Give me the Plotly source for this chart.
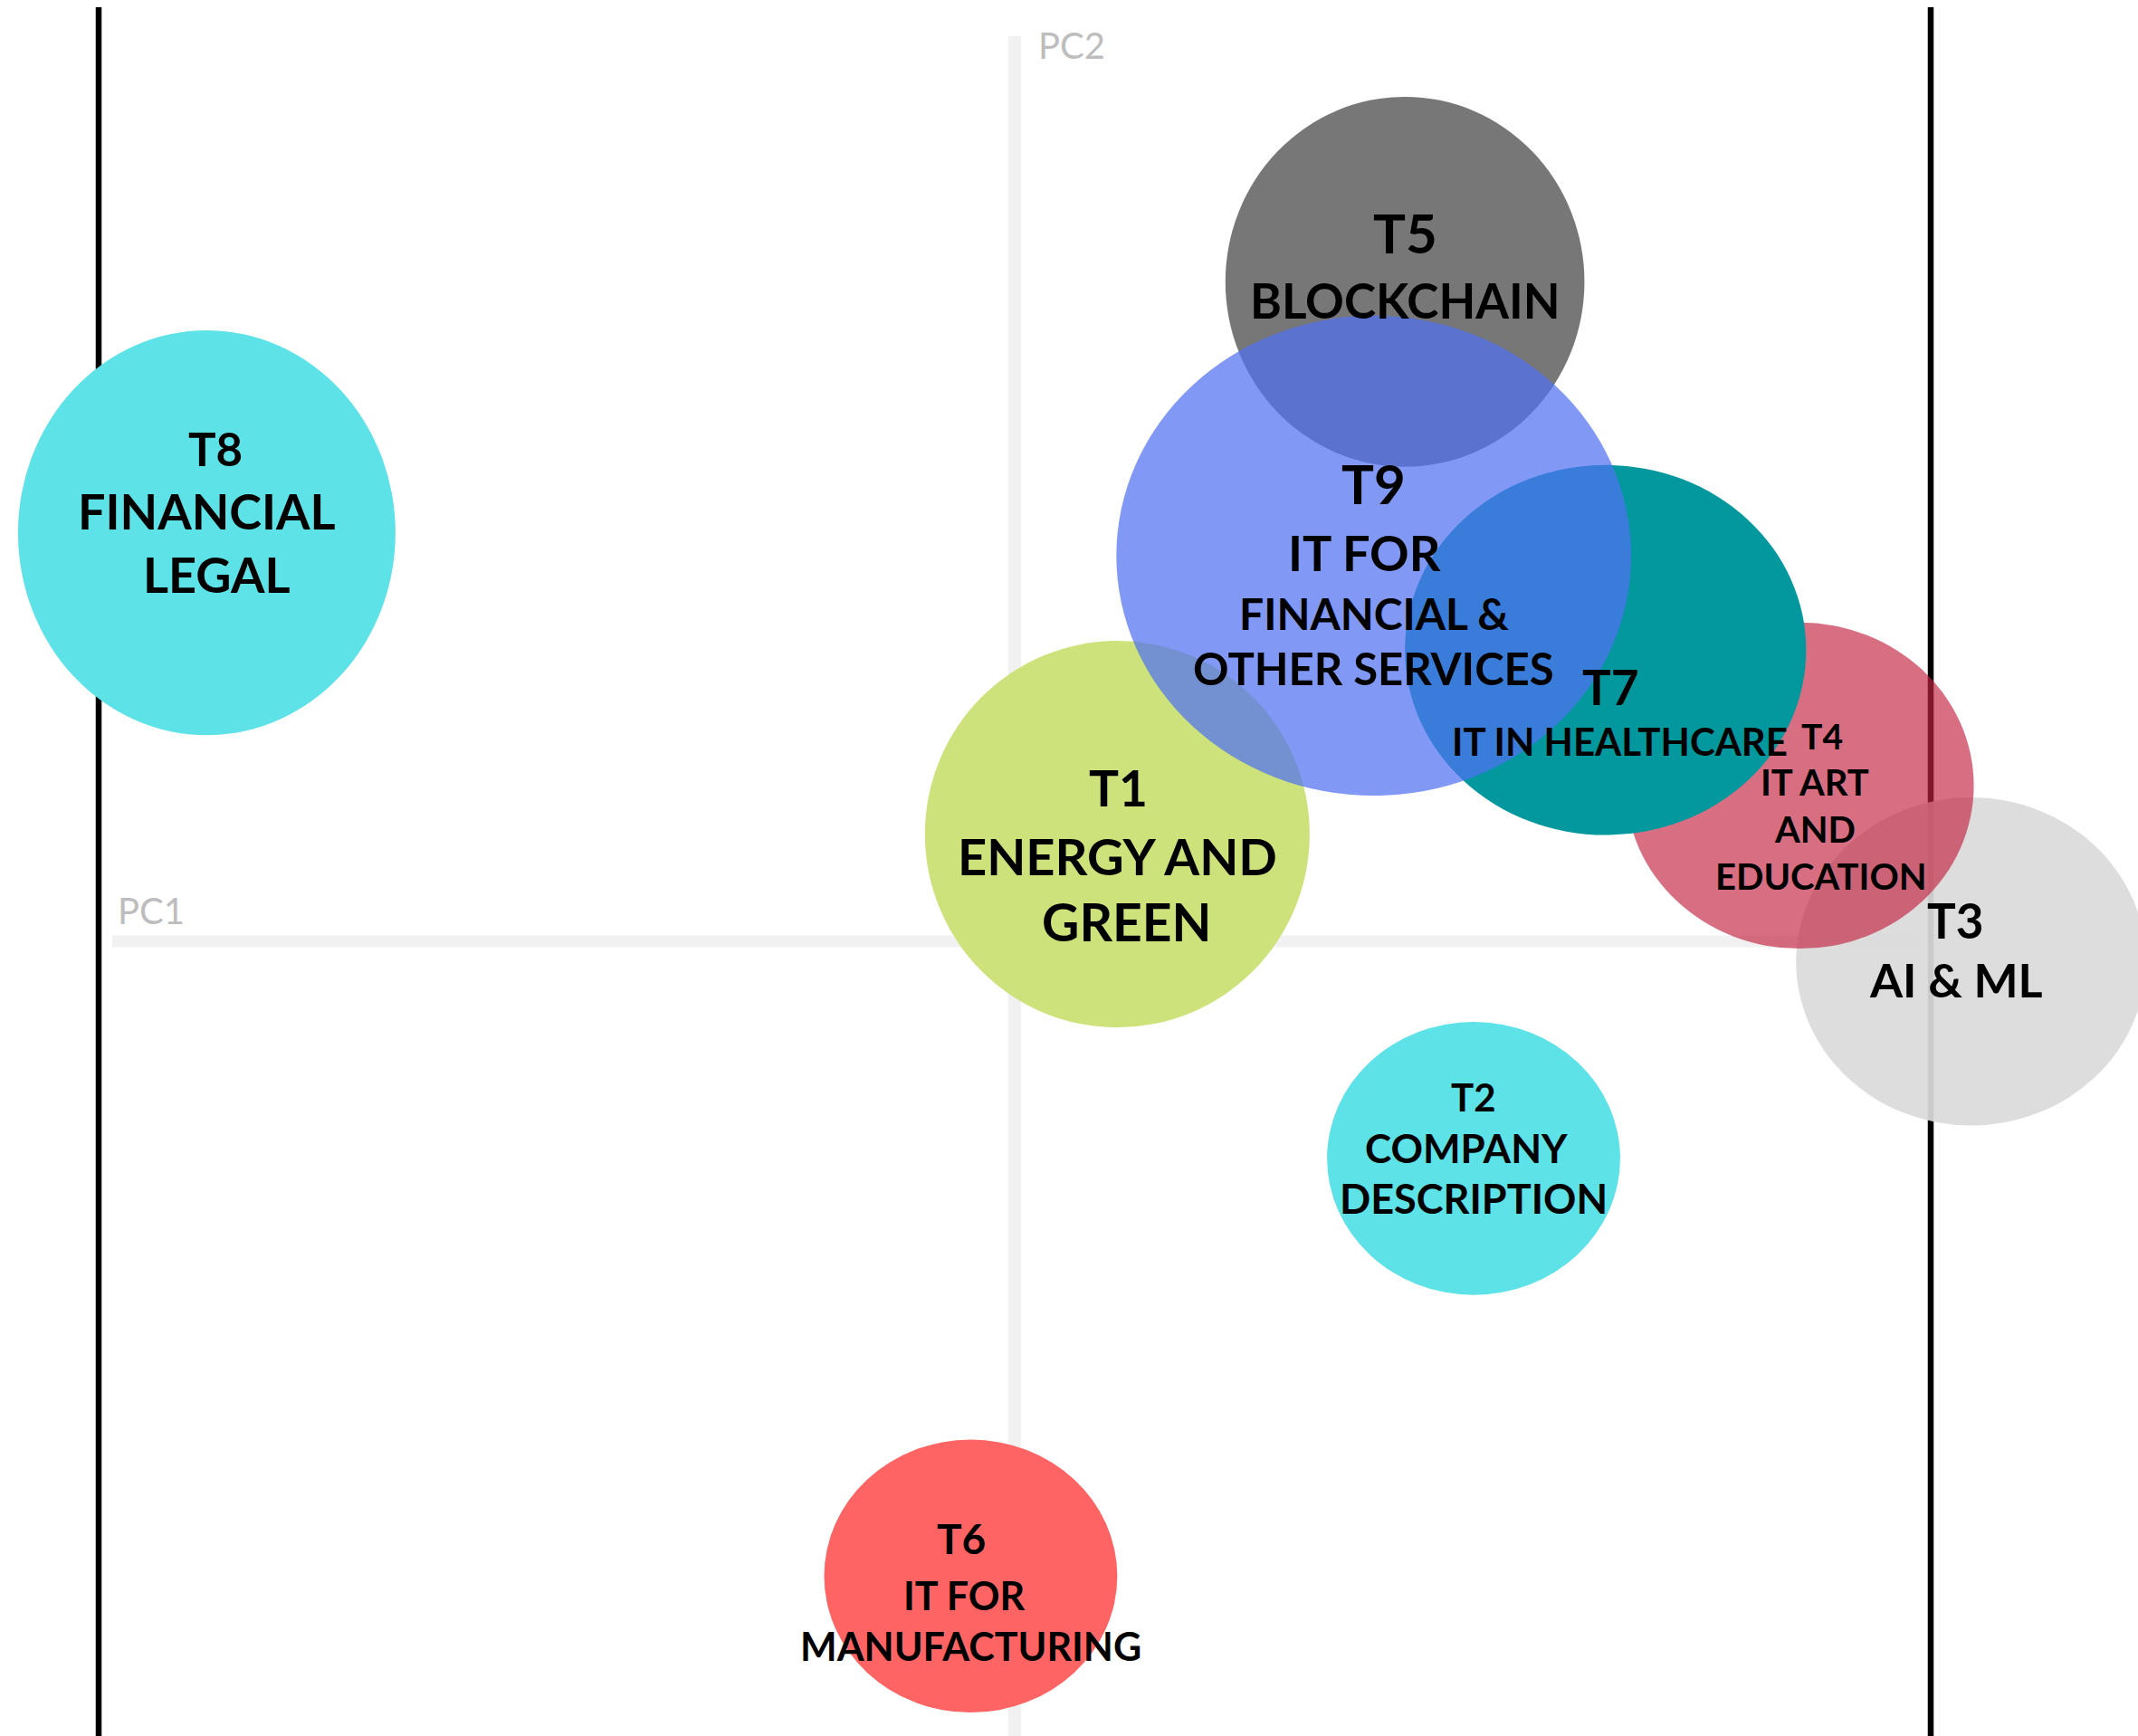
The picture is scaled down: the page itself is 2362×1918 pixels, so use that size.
import plotly.graph_objects as go

# ---------------- data ----------------
topics = ["T1", "T2", "T3", "T4", "T5", "T6", "T7", "T8", "T9"]
topic_names = [
    ["ENERGY AND", "GREEN"],
    ["COMPANY", "DESCRIPTION"],
    ["AI & ML"],
    ["IT ART", "AND", "EDUCATION"],
    ["BLOCKCHAIN"],
    ["IT FOR", "MANUFACTURING"],
    ["IT IN HEALTHCARE"],
    ["FINANCIAL", "LEGAL"],
    ["IT FOR", "FINANCIAL &", "OTHER SERVICES"],
]
pc1 = [0.112, 0.501, 1.044, 0.857, 0.426, -0.048, 0.645, -0.882, 0.392]
pc2 = [0.117, -0.237, -0.022, 0.170, 0.720, -0.693, 0.318, 0.446, 0.421]
size_x = [0.210, 0.160, 0.191, 0.190, 0.196, 0.160, 0.219, 0.206, 0.281]
size_y = [0.211, 0.149, 0.179, 0.178, 0.202, 0.149, 0.202, 0.221, 0.262]

# ---------------- styles ----------------
W, H = 2362, 1918
PX = 1012.0            # pixels per data unit
X_ORIGIN, Y_ORIGIN = 1121, 1040

colors = {
    "T1": "rgb(205,226,122)",
    "T2": "rgb(93,226,231)",
    "T3": "rgba(218,218,218,0.93)",
    "T4": "rgba(196,35,66,0.66)",
    "T5": "rgb(119,119,119)",
    "T6": "rgb(255,100,100)",
    "T7": "rgb(3,152,158)",
    "T8": "rgb(93,226,231)",
    "T9": "rgba(80,113,241,0.72)",
}
draw_order = ["T8", "T6", "T2", "T3", "T4", "T7", "T1", "T5", "T9"]

# per-line label style: (dx, dy, font size) in px relative to bubble centre
label_style = {
    "T1": [(1, -52, 55), (0, 24, 56), (11, 96, 57)],
    "T2": [(0, -68, 42), (-8, -12, 44), (0, 44, 45)],
    "T3": [(-17, -46, 53), (-17, 20, 52)],
    "T4": [(25, -55, 39), (17, -4, 40), (17, 48, 40), (24, 100, 40)],
    "T5": [(0, -54, 60), (0, 20, 53)],
    "T6": [(-10, -42, 46), (-7, 21, 43), (0, 77, 43)],
    "T7": [(6, 40, 53), (16, 101, 42)],
    "T8": [(10, -93, 51), (0, -24, 54), (11, 46, 54)],
    "T9": [(0, -80, 60), (-10, -3, 54), (0, 64, 48), (0, 124, 49)],
}
FONT = "Lato"
AXIS_GREY = "#F1F1F1"

fig = go.Figure()

shapes = []
# frame lines at PC1 = -1 and PC1 = +1
for xv in (-1, 1):
    shapes.append(dict(type="line", xref="x", yref="paper", x0=xv, x1=xv,
                       y0=0, y1=1 - 8 / H, line=dict(color="black", width=6.5),
                       layer="above"))
# PC axes
shapes.append(dict(type="line", xref="x", yref="paper", x0=0, x1=0,
                   y0=0, y1=1 - 40 / H, line=dict(color=AXIS_GREY, width=14),
                   layer="above"))
shapes.append(dict(type="line", xref="x", yref="y", x0=-0.985, x1=0.985,
                   y0=0, y1=0, line=dict(color=AXIS_GREY, width=13),
                   layer="above"))

# bubbles
for t in draw_order:
    i = topics.index(t)
    shapes.append(dict(type="circle", xref="x", yref="y",
                       x0=pc1[i] - size_x[i], x1=pc1[i] + size_x[i],
                       y0=pc2[i] - size_y[i], y1=pc2[i] + size_y[i],
                       fillcolor=colors[t], line=dict(width=0), layer="above"))

annotations = []
for t in draw_order:
    i = topics.index(t)
    lines = [t] + topic_names[i]
    for text, (dx, dy, fs) in zip(lines, label_style[t]):
        annotations.append(dict(
            x=pc1[i], y=pc2[i], xref="x", yref="y", text=text,
            showarrow=False, xanchor="center", yanchor="middle",
            xshift=dx, yshift=-dy,
            font=dict(family=FONT, size=fs, color="black", weight="bold"),
        ))

# axis labels
annotations.append(dict(x=-0.985, y=0, xref="x", yref="y", text="PC1",
                        showarrow=False, xanchor="left", yanchor="middle",
                        xshift=4, yshift=34,
                        font=dict(family=FONT, size=40, color="#BDBDBD")))
annotations.append(dict(x=0, y=1, xref="x", yref="paper", text="PC2",
                        showarrow=False, xanchor="center", yanchor="middle",
                        xshift=63, yshift=-50,
                        font=dict(family=FONT, size=40, color="#BDBDBD")))

fig.update_layout(
    width=W, height=H,
    margin=dict(l=0, r=0, t=0, b=0),
    paper_bgcolor="white", plot_bgcolor="white",
    xaxis=dict(range=[-X_ORIGIN / PX, (W - X_ORIGIN) / PX], visible=False,
               fixedrange=True),
    yaxis=dict(range=[(Y_ORIGIN - H) / PX, Y_ORIGIN / PX], visible=False,
               fixedrange=True),
    shapes=shapes,
    annotations=annotations,
    showlegend=False,
)

fig.write_html("out.html", config={"displayModeBar": False},
               post_script="document.body.style.margin='0';document.body.style.overflow='hidden';")
